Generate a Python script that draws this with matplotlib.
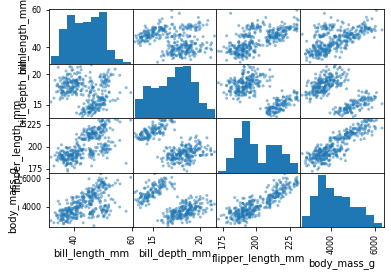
import matplotlib
matplotlib.use("Agg")
import matplotlib.pyplot as plt
import pandas as pd
from pandas.plotting import scatter_matrix

columns = ["bill_length_mm", "bill_depth_mm", "flipper_length_mm", "body_mass_g"]

# Adelie
adelie_bill_length = [39.1,39.5,40.3,36.7,39.3,38.9,39.2,34.1,42.0,37.8,37.8,41.1,38.6,34.6,36.6,38.7,42.5,34.4,46.0,
    37.8,37.7,35.9,38.2,38.8,35.3,40.6,40.5,37.9,40.5,39.5,37.2,39.5,40.9,36.4,39.2,38.8,42.2,37.6,39.8,36.5,40.8,36.0,
    44.1,37.0,39.6,41.1,37.5,36.0,42.3,39.6,40.1,35.0,42.0,34.5,41.4,39.0,40.6,36.5,37.6,35.7,41.3,37.6,41.1,36.4,41.6,
    35.5,41.1,35.9,41.8,33.5,39.7,39.6,45.8,35.5,42.8,40.9,37.2,36.2,42.1,34.6,42.9,36.7,35.1,37.3,41.3,36.3,36.9,38.3,
    38.9,35.7,41.1,34.0,39.6,36.2,40.8,38.1,40.3,33.1,43.2,35.0,41.0,37.7,37.8,37.9,39.7,38.6,38.2,38.1,43.2,38.1,45.6,
    39.7,42.2,39.6,42.7,38.6,37.3,35.7,41.1,36.2,37.7,40.2,41.4,35.2,40.6,38.8,41.5,39.0,44.1,38.5,43.1,36.8,37.5,38.1,
    41.1,35.6,40.2,37.0,39.7,40.2,40.6,32.1,40.7,37.3,39.0,39.2,36.6,36.0,37.8,36.0,41.5]
adelie_bill_depth = [18.7,17.4,18.0,19.3,20.6,17.8,19.6,18.1,20.2,17.1,17.3,17.6,21.2,21.1,17.8,19.0,20.7,18.4,21.5,
    18.3,18.7,19.2,18.1,17.2,18.9,18.6,17.9,18.6,18.9,16.7,18.1,17.8,18.9,17.0,21.1,20.0,18.5,19.3,19.1,18.0,18.4,18.5,
    19.7,16.9,18.8,19.0,18.9,17.9,21.2,17.7,18.9,17.9,19.5,18.1,18.6,17.5,18.8,16.6,19.1,16.9,21.1,17.0,18.2,17.1,18.0,
    16.2,19.1,16.6,19.4,19.0,18.4,17.2,18.9,17.5,18.5,16.8,19.4,16.1,19.1,17.2,17.6,18.8,19.4,17.8,20.3,19.5,18.6,19.2,
    18.8,18.0,18.1,17.1,18.1,17.3,18.9,18.6,18.5,16.1,18.5,17.9,20.0,16.0,20.0,18.6,18.9,17.2,20.0,17.0,19.0,16.5,20.3,
    17.7,19.5,20.7,18.3,17.0,20.5,17.0,18.6,17.2,19.8,17.0,18.5,15.9,19.0,17.6,18.3,17.1,18.0,17.9,19.2,18.5,18.5,17.6,
    17.5,17.5,20.1,16.5,17.9,17.1,17.2,15.5,17.0,16.8,18.7,18.6,18.4,17.8,18.1,17.1,18.5]
adelie_flipper = [181,186,195,193,190,181,195,193,190,186,180,182,191,198,185,195,197,184,194,
    174,180,189,185,180,187,183,187,172,180,178,178,188,184,195,196,190,180,181,184,182,195,186,
    196,185,190,182,179,190,191,186,188,190,200,187,191,186,193,181,194,185,195,185,192,184,192,
    195,188,190,198,190,190,196,197,190,195,191,184,187,195,189,196,187,193,191,194,190,189,189,
    190,202,205,185,186,187,208,190,196,178,192,192,203,183,190,193,184,199,190,181,197,198,191,
    193,197,191,196,188,199,189,189,187,198,176,202,186,199,191,195,191,210,190,197,193,199,187,
    190,191,200,185,193,193,187,188,190,192,185,190,184,195,193,187,201]
adelie_mass = [3750,3800,3250,3450,3650,3625,4675,3475,4250,3300,3700,3200,3800,4400,3700,3450,4500,3325,4200,
    3400,3600,3800,3950,3800,3800,3550,3200,3150,3950,3250,3900,3300,3900,3325,4150,3950,3550,3300,4650,3150,3900,3100,
    4400,3000,4600,3425,2975,3450,4150,3500,4300,3450,4050,2900,3700,3550,3800,2850,3750,3150,4400,3600,4050,2850,3950,
    3350,4100,3050,4450,3600,3900,3550,4150,3700,4250,3700,3900,3550,4000,3200,4700,3800,4200,3350,3550,3800,3500,3950,
    3600,3550,4300,3400,4450,3300,4300,3700,4350,2900,4100,3725,4725,3075,4250,2925,3550,3750,3900,3175,4775,3825,4600,
    3200,4275,3900,4075,2900,3775,3350,3325,3150,3500,3450,3875,3050,4000,3275,4300,3050,4000,3325,3500,3500,4475,3425,
    3900,3175,3975,3400,4250,3400,3475,3050,3725,3000,3650,4250,3475,3450,3750,3700,4000]

# Gentoo
gentoo_bill_length = [46.1,50.0,48.7,50.0,47.6,46.5,45.4,46.7,43.3,46.8,40.9,49.0,45.5,48.4,45.8,49.3,42.0,49.2,46.2,
    48.7,50.2,45.1,46.5,46.3,42.9,46.1,44.5,47.8,48.2,50.0,47.3,42.8,45.1,59.6,49.1,48.4,42.6,44.4,44.0,48.7,42.7,49.6,
    45.3,49.6,50.5,43.6,45.5,50.5,44.9,45.2,46.6,48.5,45.1,50.1,46.5,45.0,43.8,45.5,43.2,50.4,45.3,46.2,45.7,54.3,45.8,
    49.8,46.2,49.5,43.5,50.7,47.7,46.4,48.2,46.5,46.4,48.6,47.5,51.1,45.2,45.2,49.1,52.5,47.4,50.0,44.9,50.8,43.4,51.3,
    47.5,52.1,47.5,52.2,45.5,49.5,44.5,50.8,49.4,46.9,48.4,51.1,48.5,55.9,47.2,49.1,47.3,46.8,41.7,53.4,43.3,48.1,50.5,
    49.8,43.5,51.5,46.2,55.1,44.5,48.8,47.2,46.8,50.4,45.2,49.9]
gentoo_bill_depth = [13.2,16.3,14.1,15.2,14.5,13.5,14.6,15.3,13.4,15.4,13.7,16.1,13.7,14.6,14.6,15.7,13.5,15.2,14.5,
    15.1,14.3,14.5,14.5,15.8,13.1,15.1,14.3,15.0,14.3,15.3,15.3,14.2,14.5,17.0,14.8,16.3,13.7,17.3,13.6,15.7,13.7,16.0,
    13.7,15.0,15.9,13.9,13.9,15.9,13.3,15.8,14.2,14.1,14.4,15.0,14.4,15.4,13.9,15.0,14.5,15.3,13.8,14.9,13.9,15.7,14.2,
    16.8,14.4,16.2,14.2,15.0,15.0,15.6,15.6,14.8,15.0,16.0,14.2,16.3,13.8,16.4,14.5,15.6,14.6,15.9,13.8,17.3,14.4,14.2,
    14.0,17.0,15.0,17.1,14.5,16.1,14.7,15.7,15.8,14.6,14.4,16.5,15.0,17.0,15.5,15.0,13.8,16.1,14.7,15.8,14.0,15.1,15.2,
    15.9,15.2,16.3,14.1,16.0,15.7,16.2,13.7,14.3,15.7,14.8,16.1]
gentoo_flipper = [211,230,210,218,215,210,211,219,209,215,214,216,214,213,210,217,210,221,209,
    222,218,215,213,215,215,215,216,215,210,220,222,209,207,230,220,220,213,219,208,208,208,225,
    210,216,222,217,210,225,213,215,210,220,210,225,217,220,208,220,208,224,208,221,214,231,219,
    230,214,229,220,223,216,221,221,217,216,230,209,220,215,223,212,221,212,224,212,228,218,218,
    212,230,218,228,212,224,214,226,216,222,203,225,219,228,215,228,216,215,210,219,208,209,216,
    229,213,230,217,230,217,222,214,215,222,212,213]
gentoo_mass = [4500,5700,4450,5700,5400,4550,4800,5200,4400,5150,4650,5550,4650,5850,4200,5850,4150,6300,4800,
    5350,5700,5000,4400,5050,5000,5100,4100,5650,4600,5550,5250,4700,5050,6050,5150,5400,4950,5250,4350,5350,3950,5700,
    4300,4750,5550,4900,4200,5400,5100,5300,4850,5300,4400,5000,4900,5050,4300,5000,4450,5550,4200,5300,4400,5650,4700,
    5700,4650,5800,4700,5550,4750,5000,5100,5200,4700,5800,4600,6000,4750,5950,4625,5450,4725,5350,4750,5600,4600,5300,
    4875,5550,4950,5400,4750,5650,4850,5200,4925,4875,4625,5250,4850,5600,4975,5500,4725,5500,4700,5500,4575,5500,5000,
    5950,4650,5500,4375,5850,4875,6000,4925,4850,5750,5200,5400]

# Chinstrap
chinstrap_bill_length = [46.5,50.0,51.3,45.4,52.7,45.2,46.1,51.3,46.0,51.3,46.6,51.7,47.0,52.0,45.9,50.5,50.3,58.0,
    46.4,49.2,42.4,48.5,43.2,50.6,46.7,52.0,50.5,49.5,46.4,52.8,40.9,54.2,42.5,51.0,49.7,47.5,47.6,52.0,46.9,53.5,
    49.0,46.2,50.9,45.5,50.9,50.8,50.1,49.0,51.5,49.8,48.1,51.4,45.7,50.7,42.5,52.2,45.2,49.3,50.2,45.6,51.9,46.8,
    45.7,55.8,43.5,49.6,50.8,50.2]
chinstrap_bill_depth = [17.9,19.5,19.2,18.7,19.8,17.8,18.2,18.2,18.9,19.9,17.8,20.3,17.3,18.1,17.1,19.6,20.0,17.8,
    18.6,18.2,17.3,17.5,16.6,19.4,17.9,19.0,18.4,19.0,17.8,20.0,16.6,20.8,16.7,18.8,18.6,16.8,18.3,20.7,16.6,19.9,
    19.5,17.5,19.1,17.0,17.9,18.5,17.9,19.6,18.7,17.3,16.4,19.0,17.3,19.7,17.3,18.8,16.6,19.9,18.8,19.4,19.5,16.5,
    17.0,19.8,18.1,18.2,19.0,18.7]
chinstrap_flipper = [192,196,193,188,197,198,178,197,195,198,193,194,185,201,190,201,197,181,
    190,195,181,191,187,193,195,197,200,200,191,205,187,201,187,203,195,199,195,210,192,205,
    210,187,196,196,196,201,190,212,187,198,199,201,193,203,187,197,191,203,202,194,206,189,
    195,207,202,193,210,198]
chinstrap_mass = [3500,3900,3650,3525,3725,3950,3250,3750,4150,3700,3800,3775,3700,4050,3575,4050,3300,3700,
    3450,4400,3600,3400,2900,3800,3300,4150,3400,3800,3700,4550,3200,4300,3350,4100,3600,3900,3850,4800,2700,4500,
    3950,3650,3550,3500,3675,4450,3400,4300,3250,3675,3325,3950,3600,4050,3350,3450,3250,4050,3800,3525,3950,3650,
    3650,4000,3400,3775,4100,3775]

df = pd.DataFrame({
    "bill_length_mm": adelie_bill_length + chinstrap_bill_length + gentoo_bill_length,
    "bill_depth_mm": adelie_bill_depth + chinstrap_bill_depth + gentoo_bill_depth,
    "flipper_length_mm": adelie_flipper + chinstrap_flipper + gentoo_flipper,
    "body_mass_g": adelie_mass + chinstrap_mass + gentoo_mass,
})[columns]

fig = plt.figure(figsize=(391/72, 276/72), dpi=72)
axes = scatter_matrix(df, ax=fig.gca() if False else None, figsize=(391/72, 276/72))
fig = plt.gcf()
fig.set_dpi(72)
fig.set_size_inches(391/72, 276/72)
fig.subplots_adjust(left=49/391, right=384/391, top=1-9/276, bottom=1-227/276, wspace=0, hspace=0)
fig.savefig("out.png", dpi=72)
